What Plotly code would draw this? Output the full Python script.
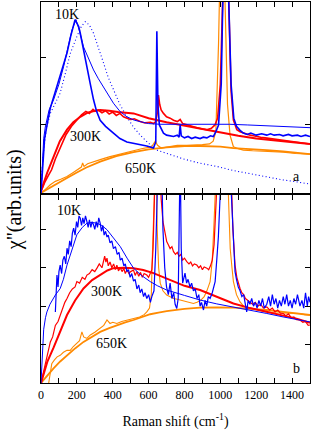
import plotly.graph_objects as go
from plotly.subplots import make_subplots

# ---- panel a (top) ----
a10_exp_x = [0, 10, 20, 35, 52, 75, 98, 120, 145, 165, 180, 190, 200, 210, 219, 235, 256, 275, 293, 310,
             330, 360, 404, 440, 479, 520, 553, 590, 627, 640, 646, 652, 660, 683, 700, 720, 739, 760, 770,
             776, 782, 800, 820, 840, 860, 887, 905, 925, 945, 961, 975, 990, 1005, 1015, 1030, 1045, 1060,
             1075, 1090, 1110, 1128, 1150, 1170, 1200, 1230, 1259, 1280, 1300, 1330, 1350, 1380, 1400, 1430,
             1450, 1475, 1500]
a10_exp_y = [0.0, 0.5, 0.8, 1.02, 1.25, 1.45, 1.66, 1.85, 2.06, 2.3, 2.48, 2.55, 2.5, 2.45, 2.35, 2.12, 1.86,
             1.6, 1.37, 1.2, 1.07, 0.98, 0.88, 0.8, 0.75, 0.73, 0.71, 0.69, 0.66, 0.75, 2.38, 1.3, 1.0, 0.88,
             0.85, 0.84, 0.83, 0.85, 0.82, 1.0, 0.84, 0.81, 0.83, 0.80, 0.82, 0.80, 0.82, 0.81, 0.84, 0.83, 0.9,
             1.0, 1.6, 3.0, 4.0, 3.0, 1.6, 1.1, 0.98, 0.92, 0.88, 0.86, 0.88, 0.85, 0.87, 0.85, 0.87, 0.85,
             0.86, 0.84, 0.86, 0.84, 0.85, 0.83, 0.85, 0.83]

a10_fit_x = [0, 8, 15, 24, 45, 70, 100, 126, 150, 173, 195, 215, 237, 265, 293, 320, 349, 375, 404, 440, 479,
             520, 553, 600, 664, 750, 850, 950, 1050, 1150, 1250, 1350, 1500]
a10_fit_y = [0.0, 0.5, 0.8, 0.97, 1.22, 1.37, 1.6, 1.86, 2.12, 2.4, 2.55, 2.38, 2.15, 1.98, 1.81, 1.68, 1.56,
             1.44, 1.32, 1.2, 1.12, 1.07, 1.05, 1.02, 1.01, 1.01, 1.02, 1.02, 1.01, 1.0, 0.99, 0.98, 0.96]

a10_dot_x = [0, 5, 15, 30, 52, 80, 107, 135, 163, 200, 225, 247, 270, 293, 320, 349, 375, 404, 440, 479, 515,
             553, 600, 646, 720, 794, 880, 980, 1070, 1166, 1260, 1351, 1430, 1500]
a10_dot_y = [0.0, 0.3, 0.63, 0.95, 1.17, 1.32, 1.47, 1.75, 2.05, 2.3, 2.45, 2.52, 2.47, 2.35, 2.15, 1.91, 1.7,
             1.51, 1.3, 1.12, 0.97, 0.85, 0.73, 0.63, 0.56, 0.5, 0.44, 0.39, 0.33, 0.28, 0.23, 0.19, 0.16, 0.13]

a300_exp_x = [0, 20, 40, 59, 80, 100, 115, 140, 170, 200, 226, 250, 270, 290, 301, 319, 340, 360, 380, 400,
              420, 440, 460, 480, 500, 520, 553, 580, 610, 627, 640, 650, 655, 662, 670, 683, 700, 720, 739,
              760, 776, 790, 813, 840, 870, 900, 925, 950, 970, 985, 1000, 1015, 1030, 1045, 1060, 1073, 1092,
              1110, 1130, 1150, 1166, 1185, 1200, 1225, 1250, 1275, 1300, 1325, 1351, 1375, 1400, 1425, 1450,
              1475, 1500]
a300_exp_y = [0.02, 0.15, 0.25, 0.34, 0.5, 0.62, 0.73, 0.86, 0.98, 1.08, 1.15, 1.2, 1.17, 1.23, 1.2, 1.22,
              1.18, 1.21, 1.16, 1.19, 1.14, 1.17, 1.12, 1.1, 1.08, 1.09, 1.05, 1.03, 1.04, 1.02, 1.05, 1.2,
              1.44, 1.3, 1.22, 1.17, 1.12, 1.1, 1.07, 1.05, 1.08, 1.02, 1.0, 0.98, 0.96, 0.94, 0.93, 0.95, 1.0,
              1.1, 1.6, 3.0, 4.0, 3.0, 1.5, 1.07, 0.93, 0.9, 0.88, 0.86, 0.85, 0.84, 0.83, 0.82, 0.81, 0.80,
              0.79, 0.79, 0.78, 0.77, 0.76, 0.75, 0.74, 0.73, 0.72]

a300_fit_x = [0, 35, 70, 105, 145, 180, 219, 260, 300, 330, 380, 430, 516, 600, 700, 800, 900, 1000, 1100,
              1200, 1300, 1400, 1500]
a300_fit_y = [0.03, 0.3, 0.53, 0.76, 0.93, 1.04, 1.12, 1.18, 1.21, 1.22, 1.21, 1.19, 1.17, 1.1, 1.04, 0.99,
              0.93, 0.88, 0.84, 0.8, 0.77, 0.74, 0.72]

a650_exp_x = [0, 20, 52, 80, 110, 145, 180, 210, 225, 232, 240, 260, 290, 330, 380, 423, 470, 516, 560, 600,
              620, 637, 650, 670, 690, 720, 760, 813, 860, 900, 940, 960, 975, 990, 1000, 1008, 1020, 1030,
              1040, 1054, 1073, 1100, 1128, 1180, 1259, 1350, 1420, 1500]
a650_exp_y = [0.0, 0.04, 0.12, 0.17, 0.2, 0.24, 0.3, 0.35, 0.38, 0.44, 0.39, 0.43, 0.46, 0.49, 0.53, 0.56,
              0.59, 0.62, 0.65, 0.67, 0.69, 0.76, 0.7, 0.66, 0.67, 0.68, 0.7, 0.7, 0.7, 0.71, 0.72, 0.76, 0.9,
              2.2, 3.5, 4.0, 3.5, 2.2, 1.3, 0.85, 0.68, 0.65, 0.63, 0.62, 0.61, 0.6, 0.58, 0.57]

a650_fit_x = [0, 50, 100, 145, 200, 250, 330, 420, 516, 600, 701, 800, 887, 1000, 1073, 1150, 1259, 1350, 1500]
a650_fit_y = [0.0, 0.08, 0.16, 0.22, 0.3, 0.37, 0.46, 0.54, 0.6, 0.64, 0.67, 0.69, 0.69, 0.68, 0.66, 0.65,
              0.63, 0.61, 0.57]

# ---- panel b (bottom) ----
b10_exp_x = [80, 85, 89, 95, 100, 107, 115, 122, 130, 138, 145, 152, 160, 168, 175, 182, 190, 198, 205, 212,
             219, 226, 233, 240, 248, 256, 263, 270, 278, 285, 293, 300, 308, 315, 322, 330, 337, 345, 352, 360,
             368, 375, 385, 395, 404, 415, 425, 435, 442, 452, 462, 470, 479, 488, 497, 506, 516, 525, 535, 545,
             553, 562, 572, 580, 590, 600, 610, 618, 630, 640, 648, 660, 672, 680, 690, 700, 710, 720, 730, 740,
             748, 757, 765, 770, 776, 782, 790, 803, 812, 820, 831, 840, 850, 860, 870, 880, 887, 895, 906, 915,
             924, 933, 943, 955, 965, 971, 980, 989, 1000, 1015, 1040, 1060, 1075, 1082, 1090, 1100, 1110, 1120,
             1130, 1140, 1147, 1155, 1165, 1175, 1185, 1195, 1205, 1215, 1225, 1235, 1245, 1259, 1270, 1280,
             1290, 1300, 1310, 1320, 1330, 1340, 1351, 1360, 1370, 1380, 1390, 1400, 1410, 1420, 1430, 1444,
             1455, 1465, 1475, 1485, 1492, 1500]
b10_exp_y = [1.85, 2.6, 2.81, 2.5, 2.9, 3.07, 2.85, 3.2, 3.3, 3.1, 3.51, 3.35, 3.7, 3.55, 3.9, 4.03, 3.85, 4.2,
             4.05, 4.35, 4.29, 4.1, 4.3, 4.15, 4.35, 4.2, 4.05, 4.25, 4.05, 4.2, 4.12, 4.0, 4.2, 4.05, 4.3, 4.16,
             3.95, 4.1, 3.85, 3.95, 3.8, 3.85, 3.65, 3.7, 3.5, 3.55, 3.35, 3.4, 3.2, 3.25, 3.05, 3.1, 2.9, 2.95,
             2.75, 2.85, 2.65, 2.7, 2.45, 2.55, 2.35, 2.45, 2.25, 2.35, 2.2, 2.3, 2.1, 2.25, 2.4, 3.5, 6.0, 7.0,
             6.0, 4.0, 3.0, 2.5, 2.3, 2.6, 2.2, 2.35, 2.05, 1.94, 2.2, 3.5, 6.0, 3.5, 2.6, 2.86, 2.6, 2.7, 2.5,
             2.6, 2.4, 2.45, 2.2, 2.3, 2.0, 2.1, 1.9, 2.15, 2.0, 2.25, 2.2, 2.35, 2.5, 2.64, 3.2, 3.8, 5.0, 7.0,
             7.0, 5.0, 3.2, 2.9, 2.7, 2.5, 2.4, 2.25, 2.3, 2.0, 1.85, 2.15, 2.05, 2.2, 2.0, 2.1, 1.95, 2.15, 2.0,
             2.2, 1.95, 2.05, 2.25, 2.0, 2.3, 2.05, 2.2, 1.95, 2.15, 2.0, 2.25, 2.05, 2.3, 2.0, 2.15, 1.95, 2.2,
             2.05, 2.3, 2.0, 2.15, 1.95, 2.35, 2.0, 2.25, 2.1]

b10_fit_x = [0, 5, 10, 15, 25, 33, 50, 80, 107, 125, 145, 170, 200, 230, 256, 285, 312, 340, 368, 400, 442,
             480, 516, 560, 609, 650, 701, 800, 887, 980, 1073, 1170, 1259, 1350, 1430, 1500]
b10_fit_y = [0.0, 0.6, 1.1, 1.4, 1.7, 1.85, 2.05, 2.29, 2.46, 2.7, 3.07, 3.45, 3.86, 4.05, 4.16, 4.18, 4.16,
             4.1, 3.99, 3.8, 3.55, 3.25, 2.99, 2.8, 2.64, 2.53, 2.42, 2.28, 2.16, 2.06, 1.98, 1.9, 1.81, 1.72,
             1.65, 1.59]

b300_exp_x = [0, 15, 30, 52, 65, 80, 95, 107, 120, 133, 145, 160, 175, 190, 200, 215, 230, 245, 256, 270, 285,
              300, 312, 325, 340, 355, 362, 368, 375, 385, 395, 405, 415, 423, 432, 442, 452, 462, 470, 480,
              490, 500, 516, 525, 535, 545, 555, 565, 575, 590, 600, 610, 618, 625, 632, 645, 660, 670, 680,
              690, 701, 710, 720, 730, 739, 750, 760, 770, 780, 790, 800, 813, 825, 835, 845, 855, 869, 880,
              890, 900, 910, 925, 935, 945, 955, 965, 975, 985, 1000, 1040, 1060, 1070, 1082, 1092, 1100, 1110,
              1120, 1130, 1140, 1155, 1166, 1180, 1195, 1210, 1225, 1240, 1259, 1275, 1290, 1305, 1320, 1335,
              1351, 1365, 1380, 1395, 1410, 1425, 1444, 1460, 1475, 1490, 1500]
b300_exp_y = [0.0, 0.3, 0.6, 1.07, 1.2, 1.5, 1.6, 1.77, 1.9, 2.1, 2.2, 2.35, 2.45, 2.5, 2.64, 2.6, 2.75, 2.7,
              2.81, 2.85, 2.95, 2.9, 2.99, 3.1, 3.0, 3.3, 3.15, 3.25, 3.05, 3.15, 3.0, 3.1, 2.95, 3.07, 2.92,
              3.0, 2.9, 2.98, 2.85, 2.95, 2.85, 2.9, 2.94, 2.8, 2.9, 2.78, 2.88, 2.75, 2.85, 2.81, 2.75, 2.85,
              2.95, 3.5, 6.0, 7.0, 6.0, 4.8, 4.2, 3.9, 3.68, 3.6, 3.5, 3.55, 3.42, 3.35, 3.4, 3.3, 3.35, 3.2,
              3.25, 3.16, 3.1, 3.15, 3.05, 3.1, 3.07, 3.0, 3.05, 2.95, 3.02, 2.99, 2.95, 3.05, 3.2, 3.6, 4.4,
              5.5, 7.0, 7.0, 5.5, 4.0, 3.07, 2.75, 2.6, 2.46, 2.35, 2.3, 2.2, 2.15, 2.11, 2.05, 2.1, 2.0, 2.05,
              1.95, 1.98, 1.9, 1.95, 1.85, 1.9, 1.82, 1.81, 1.75, 1.8, 1.7, 1.72, 1.65, 1.64, 1.58, 1.6, 1.5,
              1.51]

b300_fit_x = [0, 35, 70, 107, 145, 190, 237, 285, 330, 370, 404, 460, 516, 570, 627, 680, 739, 800, 887, 980,
              1073, 1166, 1259, 1350, 1430, 1500]
b300_fit_y = [0.0, 0.55, 0.92, 1.35, 1.77, 2.15, 2.46, 2.68, 2.81, 2.93, 2.99, 3.0, 2.99, 2.94, 2.86, 2.76,
              2.64, 2.53, 2.42, 2.24, 2.07, 1.95, 1.85, 1.75, 1.67, 1.57]

b650_exp_x = [43, 50, 60, 75, 90, 107, 125, 145, 163, 180, 200, 215, 228, 238, 256, 275, 300, 330, 350, 368,
              385, 400, 423, 450, 480, 516, 550, 575, 590, 605, 615, 622, 628, 640, 648, 656, 665, 680, 701,
              720, 740, 760, 776, 800, 825, 850, 870, 890, 910, 925, 943, 955, 965, 975, 990, 1030, 1045, 1055,
              1065, 1073, 1090, 1110, 1130, 1166, 1210, 1259, 1300, 1350, 1400, 1444, 1470, 1500]
b650_exp_y = [0.0, 0.25, 0.5, 0.6, 0.68, 0.72, 0.8, 0.85, 0.85, 0.95, 1.05, 1.1, 1.33, 1.2, 1.16, 1.25, 1.32,
              1.42, 1.5, 1.64, 1.55, 1.58, 1.55, 1.6, 1.63, 1.68, 1.72, 1.78, 1.85, 1.95, 2.3, 3.5, 6.0, 6.0,
              4.0, 3.0, 2.6, 2.4, 2.29, 2.25, 2.2, 2.18, 2.16, 2.12, 2.1, 2.07, 2.1, 2.15, 2.25, 2.4, 2.64, 3.2,
              4.2, 6.0, 7.0, 7.0, 5.0, 3.5, 3.0, 2.64, 2.3, 2.11, 2.0, 1.94, 1.9, 1.85, 1.83, 1.82, 1.8, 1.81,
              1.78, 1.77]

b650_fit_x = [0, 35, 70, 107, 145, 190, 237, 285, 330, 380, 423, 470, 516, 560, 609, 655, 701, 800, 887, 980,
              1073, 1166, 1259, 1350, 1430, 1500]
b650_fit_y = [0.0, 0.2, 0.38, 0.56, 0.72, 0.9, 1.07, 1.21, 1.33, 1.43, 1.51, 1.58, 1.64, 1.72, 1.79, 1.83,
              1.87, 1.93, 1.96, 1.97, 1.96, 1.93, 1.9, 1.85, 1.81, 1.77]

x_tickvals = list(range(0, 1501, 100))
x_ticktext = ["0", "", "200", "", "400", "", "600", "", "800", "", "1000", "", "1200", "", "1400", ""]

BLUE = "#0000ff"
RED = "#ff0000"
ORANGE = "#ff8a00"
SERIF = "Times New Roman, Liberation Serif, serif"

fig = make_subplots(rows=2, cols=1, shared_xaxes=True, vertical_spacing=0.006)


def line(x, y, color, width, row, dash="solid"):
    fig.add_trace(
        go.Scatter(x=x, y=y, mode="lines", line=dict(color=color, width=width, dash=dash),
                   showlegend=False, hoverinfo="skip"),
        row=row, col=1,
    )


# top panel
line(a10_dot_x, a10_dot_y, BLUE, 1.1, 1, dash="1px,2.5px")
line(a650_fit_x, a650_fit_y, ORANGE, 1.8, 1)
line(a650_exp_x, a650_exp_y, ORANGE, 1.2, 1)
line(a300_fit_x, a300_fit_y, RED, 2, 1)
line(a300_exp_x, a300_exp_y, RED, 1.6, 1)
line(a10_fit_x, a10_fit_y, BLUE, 1, 1)
line(a10_exp_x, a10_exp_y, BLUE, 1.6, 1)

# bottom panel
line(b650_fit_x, b650_fit_y, ORANGE, 1.8, 2)
line(b650_exp_x, b650_exp_y, ORANGE, 1.1, 2)
line(b300_fit_x, b300_fit_y, RED, 2, 2)
line(b300_exp_x, b300_exp_y, RED, 1.2, 2)
line(b10_fit_x, b10_fit_y, BLUE, 1, 2)
line(b10_exp_x, b10_exp_y, BLUE, 1.2, 2)

labels = [
    (1, 145, 2.62, "10K"), (1, 247, 0.83, "300K"), (1, 553, 0.36, "650K"), (1, 1426, 0.24, "a"),
    (2, 158, 4.48, "10K"), (2, 368, 2.38, "300K"), (2, 395, 1.03, "650K"), (2, 1426, 0.38, "b"),
]
for row, lx, ly, txt in labels:
    fig.add_annotation(x=lx, y=ly, text=txt, showarrow=False, xref=f"x{'' if row == 1 else 2}",
                       yref=f"y{'' if row == 1 else 2}", font=dict(family=SERIF, size=14, color="black"))

axis_common = dict(showline=True, linecolor="black", linewidth=1.2, mirror="ticks", ticks="inside",
                   ticklen=5, tickwidth=1, tickcolor="black", showgrid=False, zeroline=False)

fig.update_xaxes(range=[0, 1500], tickvals=x_tickvals, ticktext=x_ticktext, **axis_common)
fig.update_xaxes(showticklabels=False, row=1, col=1)
fig.update_xaxes(showticklabels=True, tickfont=dict(family=SERIF, size=12, color="black"),
                 title=dict(text="Raman shift (cm<sup>-1</sup>)", font=dict(family=SERIF, size=14, color="black"),
                            standoff=16),
                 row=2, col=1)
fig.update_yaxes(showticklabels=False, **axis_common)
fig.update_yaxes(range=[0, 2.81], tickvals=[1, 2], domain=[0.499, 1], row=1, col=1)
fig.update_yaxes(range=[0, 4.9], tickvals=[1, 2, 3, 4], domain=[0, 0.494], row=2, col=1)

fig.add_annotation(x=-0.1, y=0.48, xref="paper", yref="paper", text="χ\"(arb.units)", textangle=-90,
                   showarrow=False, xanchor="center", yanchor="middle",
                   font=dict(family=SERIF, size=20, color="black"))

fig.update_layout(
    width=332, height=430,
    margin=dict(l=41, r=22, t=2, b=47),
    plot_bgcolor="white", paper_bgcolor="white",
    font=dict(family=SERIF, color="black"),
    showlegend=False,
)

fig.write_html("out.html", config={"displayModeBar": False},
               post_script="document.body.style.margin='0px';")
